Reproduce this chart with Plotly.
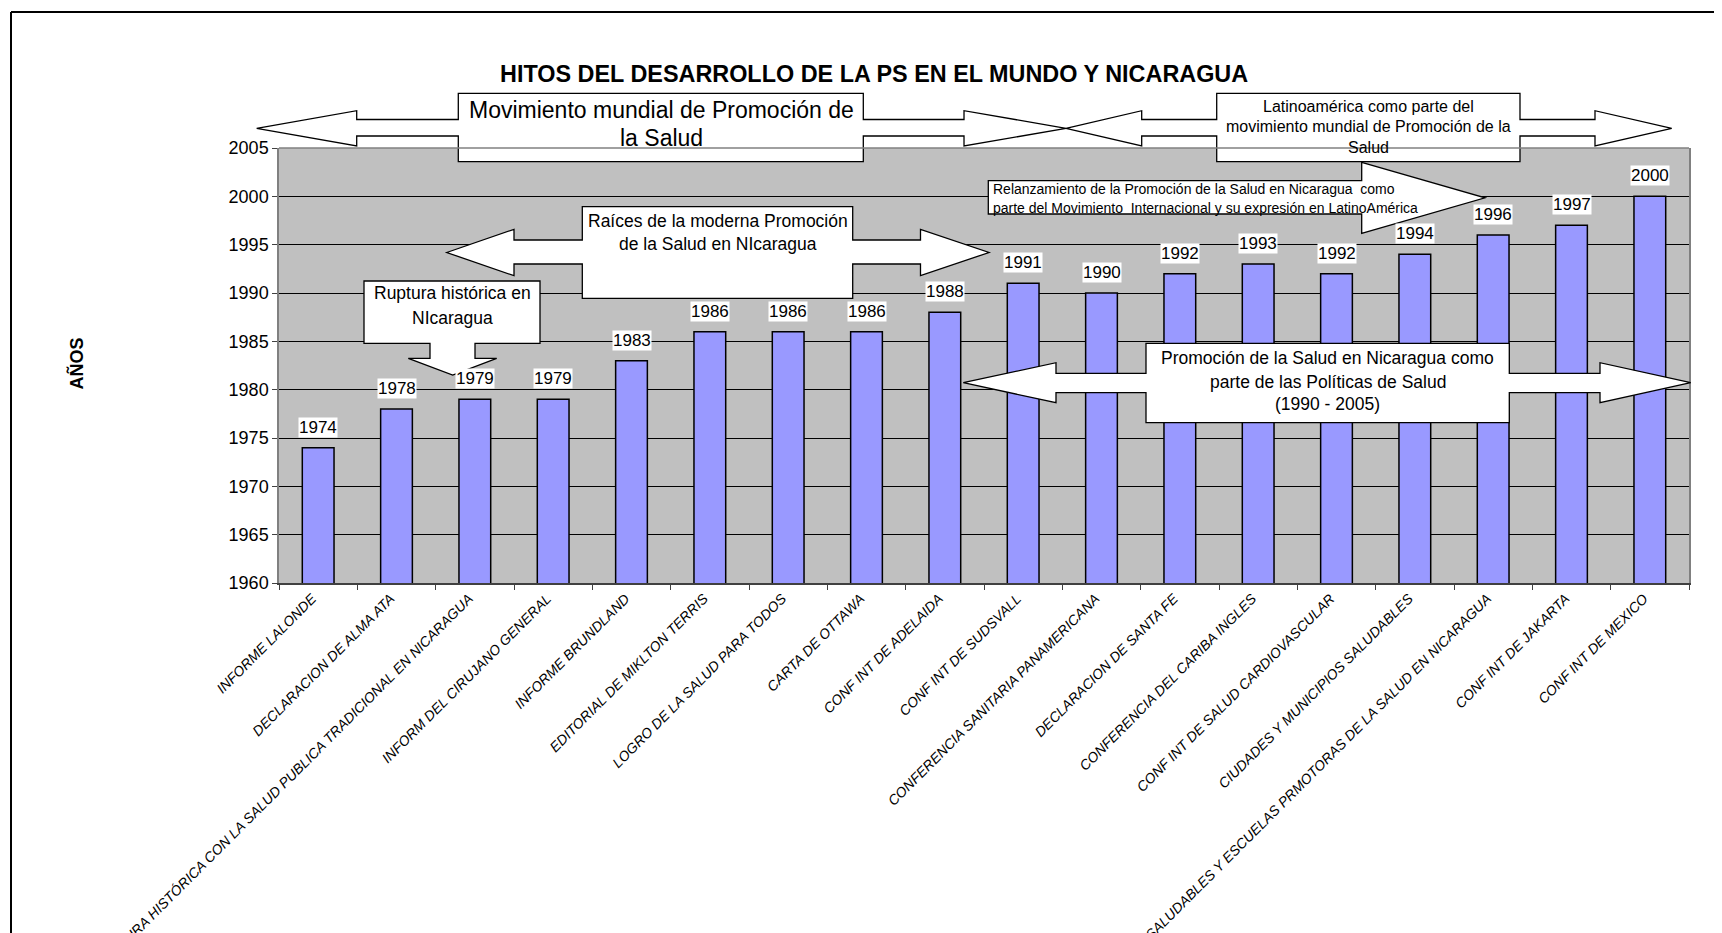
import plotly.graph_objects as go

# ---------------- data ----------------
categories = [
    "INFORME LALONDE",
    "DECLARACION DE ALMA ATA",
    "RUPTURA HISTÓRICA CON LA SALUD PUBLICA TRADICIONAL EN NICARAGUA",
    "INFORM DEL CIRUJANO GENERAL",
    "INFORME BRUNDLAND",
    "EDITORIAL DE MIKLTON TERRIS",
    "LOGRO DE LA SALUD PARA TODOS",
    "CARTA DE OTTAWA",
    "CONF INT DE ADELAIDA",
    "CONF INT DE SUDSVALL",
    "CONFERENCIA SANITARIA PANAMERICANA",
    "DECLARACION DE SANTA FE",
    "CONFERENCIA DEL CARIBA INGLES",
    "CONF INT DE SALUD CARDIOVASCULAR",
    "CIUDADES Y MUNICIPIOS SALUDABLES",
    "MUNICIPIOS SALUDABLES Y ESCUELAS PRMOTORAS DE LA SALUD EN NICARAGUA",
    "CONF INT DE JAKARTA",
    "CONF INT DE MEXICO",
]
years = [1974, 1978, 1979, 1979, 1983, 1986, 1986, 1986, 1988,
         1991, 1990, 1992, 1993, 1992, 1994, 1996, 1997, 2000]

title_text = "HITOS DEL DESARROLLO DE LA PS EN EL MUNDO Y NICARAGUA"
y_title = "AÑOS"

# ---------------- geometry helpers (screen pixels -> paper) ----------------
OFF = 8                      # default page margin of the html body
FW, FH = 1722 - OFF, 933 - OFF
L, R, T, B = 279, 1689, 148, 583   # plot area in screen pixels
W, H = R - L, B - T
FONT = "Liberation Sans, Arial, sans-serif"


def px(X):
    return (X - L) / W


def py(Y):
    return (B - Y) / H


def path(points):
    return "M " + " L ".join(f"{px(x):.5f},{py(y):.5f}" for x, y in points) + " Z"


def lr_callout(tipL, hbL, tipR, hbR, head_t, head_b, sh_t, sh_b, bx0, bx1, by0, by1):
    ym = tipL[1]
    return [
        (tipL[0], ym), (hbL, head_t), (hbL, sh_t), (bx0, sh_t), (bx0, by0),
        (bx1, by0), (bx1, sh_t), (hbR, sh_t), (hbR, head_t), (tipR, ym),
        (hbR, head_b), (hbR, sh_b), (bx1, sh_b), (bx1, by1), (bx0, by1),
        (bx0, sh_b), (hbL, sh_b), (hbL, head_b),
    ]


shape_paths = [
    # Movimiento mundial
    lr_callout((256.7, 128.3), 356.7, 1066, 964, 110.7, 146, 119.5, 136,
               458.3, 863.3, 93.3, 161.7),
    # Latinoamérica
    lr_callout((1066, 128.3), 1141.7, 1671.7, 1595, 110.7, 146, 119.5, 136,
               1216.7, 1520, 93.3, 161.7),
    # Raíces
    lr_callout((446.7, 252.5), 514, 989, 920.5, 229.3, 275.7, 240, 264,
               582.3, 852.7, 206.7, 298.3),
    # Ruptura (down arrow)
    [(364, 281), (540, 281), (540, 343.3), (475, 343.3), (475, 358.3),
     (496.7, 358.3), (452.7, 375), (408.3, 358.3), (430, 358.3),
     (430, 343.3), (364, 343.3)],
    # Relanzamiento (right arrow)
    [(988.3, 180.7), (1361.7, 180.7), (1361.7, 162.3), (1485, 197.8),
     (1361.7, 233.3), (1361.7, 214), (988.3, 214)],
    # Promoción en Nicaragua
    lr_callout((963.3, 382.7), 1056, 1690.7, 1600, 362.7, 402.7, 373.3, 392.7,
               1146, 1509.3, 343.3, 422.7),
]

# (text, x, y_center, size, anchor)
box_texts = [
    ("Movimiento mundial de Promoción de", 661, 110, 23, "center"),
    ("la Salud", 661, 138, 23, "center"),
    ("Latinoamérica como parte del", 1368, 106, 16, "center"),
    ("movimiento mundial de Promoción de la", 1368, 126.7, 16, "center"),
    ("Salud", 1368, 147.3, 16, "center"),
    ("Raíces de la moderna Promoción", 717.5, 220.5, 17.5, "center"),
    ("de la Salud en NIcaragua", 717.5, 243.5, 17.5, "center"),
    ("Ruptura histórica en", 452, 293.3, 17.5, "center"),
    ("NIcaragua", 452, 317.7, 17.5, "center"),
    ("Relanzamiento de la Promoción de la Salud en Nicaragua\u00a0 como", 991, 189.3, 14, "left"),
    ("parte del Movimiento\u00a0 Internacional y su expresión en LatinoAmérica", 991, 208.3, 14, "left"),
    ("Promoción de la Salud en Nicaragua como", 1327.7, 358.3, 17.5, "center"),
    ("parte de las Políticas de Salud", 1327.7, 381.7, 17.5, "center"),
    ("(1990 - 2005)", 1327.7, 404, 17.5, "center"),
]

# ---------------- figure ----------------
fig = go.Figure(
    go.Bar(
        x=categories,
        y=years,
        marker=dict(color="#9999FF", line=dict(color="black", width=1.5)),
        hoverinfo="x+y",
    )
)

shapes = []
for pts in shape_paths:
    shapes.append(dict(type="path", xref="paper", yref="paper", path=path(pts),
                       fillcolor="white", line=dict(color="black", width=1.3),
                       layer="above"))
# plot-area top border
shapes.append(dict(type="line", xref="paper", yref="paper", x0=0, x1=1, y0=1, y1=1,
                   line=dict(color="#808080", width=1.5), layer="above"))
# outer chart frame (top and left visible)
shapes.append(dict(type="line", xref="paper", yref="paper", x0=px(11), x1=px(1760),
                   y0=py(12), y1=py(12), line=dict(color="black", width=2)))
shapes.append(dict(type="line", xref="paper", yref="paper", x0=px(11), x1=px(11),
                   y0=py(12), y1=py(980), line=dict(color="black", width=2)))

annotations = []
annotations.append(dict(text=f"<b>{title_text}</b>", xref="paper", yref="paper",
                        x=px(874), y=py(73.7), xanchor="center", yanchor="middle",
                        showarrow=False, font=dict(family=FONT, size=23.4, color="black")))
annotations.append(dict(text=f"<b>{y_title}</b>", xref="paper", yref="paper",
                        x=px(75.5), y=py(364), xanchor="center", yanchor="middle",
                        textangle=-90, showarrow=False,
                        font=dict(family=FONT, size=18, color="black")))
for txt, xc, yc, sz, anc in box_texts:
    annotations.append(dict(text=txt, xref="paper", yref="paper", x=px(xc), y=py(yc),
                            xanchor=anc, yanchor="middle", showarrow=False,
                            font=dict(family=FONT, size=sz, color="black")))
for c, v in zip(categories, years):
    annotations.append(dict(text=str(v), xref="x", yref="y", x=c, y=v,
                            xanchor="center", yanchor="middle", yshift=20.5,
                            showarrow=False, bgcolor="white", borderpad=0,
                            font=dict(family=FONT, size=17, color="black")))

fig.update_layout(
    width=FW, height=FH, autosize=False,
    margin=dict(l=L - OFF, r=FW - (R - OFF), t=T - OFF, b=FH - (B - OFF), pad=0),
    paper_bgcolor="white", plot_bgcolor="#C0C0C0",
    font=dict(family=FONT, color="black"),
    bargap=0.595,
    showlegend=False,
    shapes=shapes,
    annotations=annotations,
    xaxis=dict(type="category", tickangle=-45, automargin=False,
               tickfont=dict(family=FONT, size=14, style="italic", color="black"),
               ticks="outside", tickson="boundaries", ticklen=5, tickcolor="#404040",
               ticklabelshift=-6,
               showline=True, linecolor="#404040", linewidth=2, showgrid=False),
    yaxis=dict(range=[1960, 2005], tick0=1960, dtick=5, automargin=False,
               tickfont=dict(family=FONT, size=18, color="black"),
               ticks="outside", ticklen=5, tickcolor="#404040",
               showline=True, linecolor="#808080", linewidth=1.5, mirror=True,
               showgrid=True, gridcolor="black", gridwidth=1, zeroline=False),
)

fig.write_html("out.html")
